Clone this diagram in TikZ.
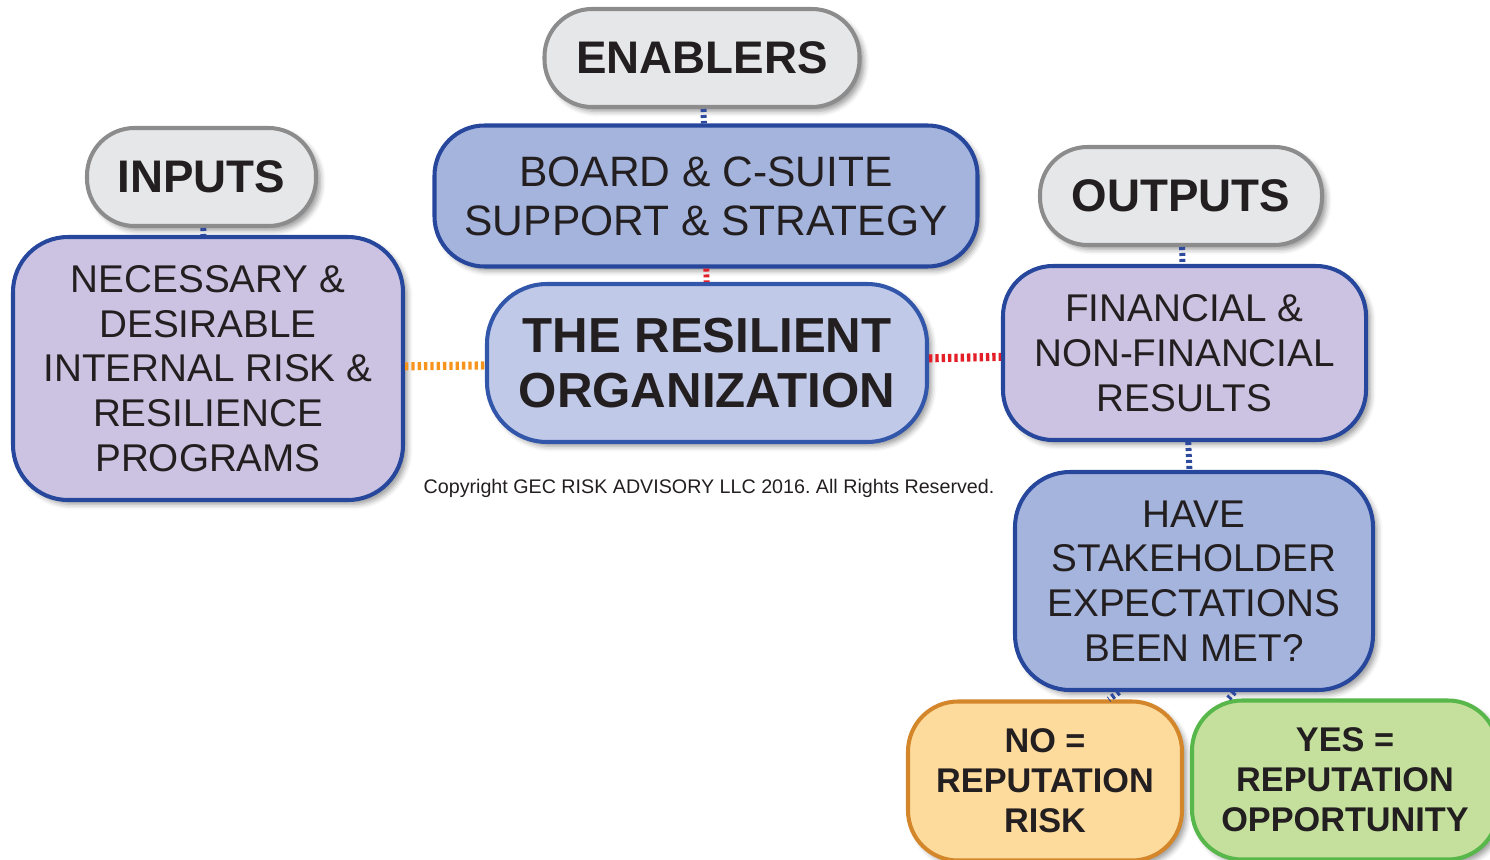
\documentclass[tikz,border=0pt]{standalone}
\usepackage{fontspec}
\setmainfont{Liberation Sans}
\usetikzlibrary{shadows.blur}
\definecolor{inkblack}{HTML}{231F20}
\definecolor{pillfill}{HTML}{E6E7E8}
\definecolor{pillgrey}{HTML}{8C8C8C}
\definecolor{boardfill}{HTML}{A5B4DD}
\definecolor{boardblue}{HTML}{26479C}
\definecolor{orgfill}{HTML}{C1C9E8}
\definecolor{orgblue}{HTML}{3257AA}
\definecolor{lavfill}{HTML}{CCC3E2}
\definecolor{nofill}{HTML}{FDDB9D}
\definecolor{noorange}{HTML}{D4862A}
\definecolor{yesfill}{HTML}{C5E09D}
\definecolor{yesgreen}{HTML}{58B74A}
\definecolor{linkblue}{HTML}{2E4A9E}
\definecolor{linkorange}{HTML}{F7941D}
\definecolor{linkred}{HTML}{E31E26}
\tikzset{
    box/.style={draw, line width=2.3pt, rounded corners=1cm, align=center, text=inkblack,
        blur shadow={shadow xshift=2.5pt, shadow yshift=-2.5pt, shadow blur radius=3pt, shadow opacity=40}},
    pill/.style={box, draw=pillgrey, fill=pillfill, rounded corners=0.95cm, minimum height=1.96cm,
        font=\bfseries\fontsize{26}{30}\selectfont},
    plainbox/.style={box, draw=boardblue, font=\fontsize{22}{25.5}\selectfont},
    answer/.style={box, rounded corners=1cm, minimum height=3.18cm, font=\bfseries\fontsize{19.5}{22.7}\selectfont},
    bluelink/.style={draw=linkblue, line width=3.4pt, dash pattern=on 1.7pt off 1.7pt},
    dotlink/.style={line width=4.6pt, dash pattern=on 1.9pt off 1.7pt}
}
\frenchspacing
\begin{document}
\begin{tikzpicture}
    \useasboundingbox (0,0) rectangle (29.8,-17.18);
    \clip (0,0) rectangle (29.8,-17.18);

    \node[pill, minimum width=6.3cm] (enablers) at (14.04,-1.16) {ENABLERS};
    \node[pill, minimum width=4.58cm] (inputs) at (4.03,-3.54) {INPUTS};
    \node[pill, minimum width=5.64cm] (outputs) at (23.62,-3.92) {OUTPUTS};

    \node[plainbox, fill=boardfill, minimum width=10.86cm, minimum height=2.82cm,
        font=\fontsize{24.2}{28}\selectfont] (board) at (14.12,-3.92) {BOARD \& C-SUITE\\SUPPORT \& STRATEGY};
    \node[plainbox, fill=lavfill, minimum width=7.8cm, minimum height=5.26cm, rounded corners=1.1cm]
        (necessary) at (4.16,-7.37) {NECESSARY \&\\DESIRABLE\\INTERNAL RISK \&\\RESILIENCE\\PROGRAMS};
    \node[box, draw=orgblue, fill=orgfill, minimum width=8.8cm, minimum height=3.16cm, rounded corners=1.2cm,
        font=\bfseries\fontsize{28}{31.5}\selectfont] (resilient) at (14.14,-7.26) {THE RESILIENT\\ORGANIZATION};
    \node[plainbox, fill=lavfill, minimum width=7.26cm, minimum height=3.48cm] (financial) at (23.69,-7.06)
        {FINANCIAL \&\\NON-FINANCIAL\\RESULTS};
    \node[plainbox, fill=boardfill, minimum width=7.16cm, minimum height=4.36cm, rounded corners=1.1cm]
        (stakeholder) at (23.88,-11.62) {HAVE\\STAKEHOLDER\\EXPECTATIONS\\BEEN MET?};

    \node[answer, draw=noorange, fill=nofill, minimum width=5.48cm] (norisk) at (20.9,-15.62)
        {NO =\\REPUTATION\\RISK};
    \node[answer, draw=yesgreen, fill=yesfill, minimum width=6.12cm] (yesopp) at (26.9,-15.6)
        {YES =\\REPUTATION\\OPPORTUNITY};

    \node[text=inkblack, font=\fontsize{11.2}{13}\selectfont] (copyright) at (14.18,-9.76)
        {Copyright GEC RISK ADVISORY LLC 2016. All Rights Reserved.};

    \draw[bluelink] (enablers) -- (board);
    \draw[bluelink] (inputs) -- (necessary);
    \draw[bluelink] (outputs) -- (financial);
    \draw[bluelink] (financial) -- (stakeholder);
    \draw[bluelink] (stakeholder.236) -- (norisk.52);
    \draw[bluelink] (stakeholder.290) -- (yesopp.145);
    \draw[draw=linkred, line width=3.4pt, dash pattern=on 1.7pt off 1.7pt] (board) -- (resilient);
    \draw[dotlink, draw=linkorange] (necessary) -- (resilient);
    \draw[dotlink, draw=linkred] (resilient) -- (financial);
\end{tikzpicture}
\end{document}
